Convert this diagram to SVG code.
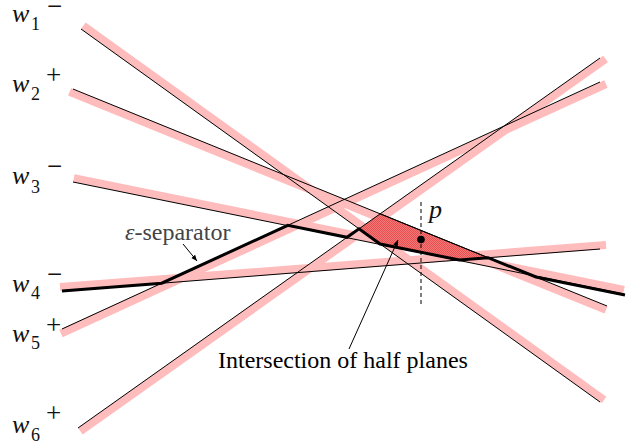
<svg xmlns="http://www.w3.org/2000/svg" width="634" height="445" viewBox="0 0 634 445">
<style>
.band{stroke:#ffbcbc;stroke-width:8;fill:none}
.ln{stroke:#000;stroke-width:1;fill:none}
.sep{stroke:#000;stroke-width:3;fill:none;stroke-linejoin:miter}
.w{font-family:"Liberation Serif",serif;font-style:italic;font-size:26px;fill:#111}
.sub{font-family:"Liberation Serif",serif;font-size:18px;fill:#111}
.sup{font-family:"Liberation Serif",serif;font-size:27px;fill:#111}
.lbl{font-family:"Liberation Serif",serif;font-size:24px;fill:#000}
.arr{stroke:#000;stroke-width:1;fill:none}
</style>
<defs>
<pattern id="chk" width="2" height="2" patternUnits="userSpaceOnUse">
<rect width="2" height="2" fill="#f47878"/>
<rect width="1" height="1" fill="#e65050"/>
<rect x="1" y="1" width="1" height="1" fill="#e65050"/>
</pattern>
<marker id="ah" markerWidth="7" markerHeight="6" refX="6" refY="3" orient="auto" markerUnits="userSpaceOnUse">
<path d="M0,0.5 L6,3 L0,5.5 Z" fill="#000"/>
</marker>
</defs>
<rect width="634" height="445" fill="#fff"/>
<g id="bands">
<line class="band" x1="83.3" y1="25.8" x2="604" y2="400"/>
<line class="band" x1="69.6" y1="91.9" x2="606" y2="309.9"/>
<line class="band" x1="73.8" y1="178.1" x2="624" y2="290"/>
<line class="band" x1="60" y1="287.1" x2="606" y2="245"/>
<line class="band" x1="61" y1="333.5" x2="606" y2="84"/>
<line class="band" x1="80.3" y1="431.3" x2="605.6" y2="59"/>
</g>
<g id="region">
<polygon points="359,228.8 380.2,213.8 488.1,257.7 459.3,260 380.1,244" fill="url(#chk)"/>
<line x1="380.2" y1="213.8" x2="488.1" y2="257.7" class="ln" stroke-width="1.5"/>
</g>
<g id="w1">
<line class="ln" x1="81" y1="29" x2="600" y2="402"/>
<text class="w" x="12" y="22">w</text><text class="sub" x="31" y="30">1</text><text class="sup" x="47" y="15">−</text>
</g>
<g id="w2">
<line class="ln" x1="73" y1="89" x2="607" y2="306"/>
<text class="w" x="12" y="92">w</text><text class="sub" x="31" y="100">2</text><text class="sup" x="46" y="84">+</text>
</g>
<g id="w3">
<line class="ln" x1="73" y1="182" x2="624" y2="294"/>
<text class="w" x="12" y="184">w</text><text class="sub" x="31" y="193">3</text><text class="sup" x="47" y="175">−</text>
</g>
<g id="w4">
<line class="ln" x1="62" y1="291" x2="600" y2="249"/>
<text class="w" x="12" y="292">w</text><text class="sub" x="31" y="299">4</text><text class="sup" x="47" y="283">−</text>
</g>
<g id="w5">
<line class="ln" x1="62" y1="329" x2="600" y2="82"/>
<text class="w" x="12" y="342">w</text><text class="sub" x="31" y="349">5</text><text class="sup" x="46" y="334">+</text>
</g>
<g id="w6">
<line class="ln" x1="78" y1="428" x2="600" y2="58"/>
<text class="w" x="12" y="433">w</text><text class="sub" x="31" y="441">6</text><text class="sup" x="46" y="422">+</text>
</g>
<g id="separator">
<polyline class="sep" points="62,291 161.7,283.2 287.8,225.3 347,237.3 359,228.8 380.1,244 459.3,260 488.1,257.7 536,277 625,295"/>
<text class="lbl" x="125" y="240" style="fill:#444"><tspan font-style="italic">ε</tspan>-separator</text>
</g>
<g id="point-p">
<line x1="421" y1="202" x2="421" y2="307" stroke="#000" stroke-width="1" stroke-dasharray="4,3"/>
<circle cx="421" cy="239.5" r="3.8" fill="#000"/>
<text class="w" x="429" y="218">p</text>
</g>
<g id="intersection-label">
<text class="lbl" x="218" y="368">Intersection of half planes</text>
</g>
<g id="connectors">
<line class="arr" x1="183" y1="244" x2="197" y2="261" marker-end="url(#ah)"/>
<line class="arr" x1="349" y1="349" x2="398" y2="240" marker-end="url(#ah)"/>
</g>
</svg>
